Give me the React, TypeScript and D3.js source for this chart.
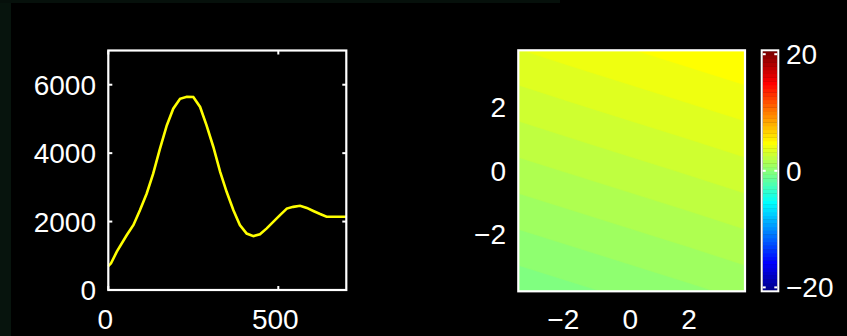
import React from "react";
import * as d3 from "d3";

// ---- Line panel data ----
const curveX = [0, 8, 25, 54, 74, 93, 113, 132, 152, 172, 191, 211, 231, 250, 270, 289, 309, 329, 348, 368, 387, 407, 427, 446, 466, 485, 505, 525, 544, 564, 584, 603, 623, 642, 662, 700];
const curveY = [700, 780, 1120, 1600, 1900, 2330, 2820, 3400, 4130, 4810, 5300, 5590, 5650, 5640, 5350, 4810, 4180, 3450, 2870, 2330, 1900, 1650, 1575, 1630, 1800, 1990, 2190, 2380, 2430, 2460, 2400, 2310, 2220, 2140, 2140, 2140];
const lineXTicks = [0, 500];
const lineYTicks = [0, 2000, 4000, 6000];

// ---- Image panel data (grid samples, top row first) ----
const fieldX = [-4, -2, 0, 2, 4];
const fieldY = [4, 2, 0, -2, -4];
const fieldZ = [
  [3.9, 4.24, 4.57, 4.9, 5.23],
  [2.77, 3.11, 3.44, 3.77, 4.1],
  [1.65, 1.98, 2.31, 2.64, 2.98],
  [0.52, 0.85, 1.18, 1.51, 1.85],
  [-0.61, -0.28, 0.05, 0.38, 0.72],
];
const mapXTicks = [-2, 0, 2];
const mapYTicks = [-2, 0, 2];
const colorLimits = [-20.5, 20.5];
const colorTicks = [-20, 0, 20];
const colorLevels = 64;

const FONT = "'Liberation Sans', Arial, sans-serif";
const FS = 28;

// Matlab-style jet colormap with 64 levels
function jetU(j: number) {
  if (j < 1 || j > 47) return 0;
  if (j <= 16) return j / 16;
  if (j <= 31) return 1;
  return (48 - j) / 16;
}
function jet(i: number) {
  const k = i + 1;
  return d3.rgb(255 * jetU(k - 24), 255 * jetU(k - 8), 255 * jetU(k + 8)).formatHex();
}

const fmtMinus = (v: number) => (v < 0 ? "\u2212" + Math.abs(v) : String(v));

export default function App() {
  // Line panel scales
  const lx = d3.scaleLinear().domain([0, 700]).range([108.3, 346.3]);
  const ly = d3.scaleLinear().domain([0, 7000]).range([290, 50.5]);
  const line = d3
    .line<number>()
    .x((_, i) => lx(curveX[i]))
    .y((d) => ly(d));

  // Image panel scales
  const mx = d3.scaleLinear().domain([-3.8, 3.9]).range([518.3, 745]);
  const my = d3.scaleLinear().domain([-3.8, 3.8]).range([291.3, 50.3]);
  const nx = fieldX.length;
  const ny = fieldY.length;
  const gx = d3.scaleLinear().domain([0.5, nx - 0.5]).range([mx(fieldX[0]), mx(fieldX[nx - 1])]);
  const gy = d3.scaleLinear().domain([0.5, ny - 0.5]).range([my(fieldY[0]), my(fieldY[ny - 1])]);
  const step = (colorLimits[1] - colorLimits[0]) / colorLevels;
  const thresholds = d3.range(colorLevels).map((i) => colorLimits[0] + i * step);
  const contours = d3.contours().size([nx, ny]).smooth(true).thresholds(thresholds)(fieldZ.flat());
  const proj = d3.geoTransform({
    point(x: number, y: number) {
      (this as any).stream.point(gx(x), gy(y));
    },
  });
  const geoPath = d3.geoPath(proj);

  // Colorbar
  const cb = d3.scaleLinear().domain(colorLimits).range([290.3, 51.3]);
  const cbX0 = 762.7;
  const cbX1 = 777.3;

  const white = "#ffffff";

  return (
    <svg
      width={847}
      height={336}
      style={{ position: "absolute", left: 0, top: 0, display: "block" }}
      fontFamily={FONT}
      fontSize={FS}
    >
      <rect x={0} y={0} width={847} height={336} fill="#000" />
      <rect x={0} y={0} width={11} height={336} fill="#07140d" />
      <rect x={0} y={0} width={560} height={3} fill="#06100b" />

      {/* Line panel */}
      <path d={line(curveY) || ""} fill="none" stroke="#ffff00" strokeWidth={2.6} strokeLinejoin="miter" />
      {lineYTicks.map((t) => (
        <g key={"ly" + t}>
          <line x1={lx(0)} x2={lx(0) + 4} y1={ly(t)} y2={ly(t)} stroke={white} strokeWidth={2} />
          <line x1={lx(700) - 4} x2={lx(700)} y1={ly(t)} y2={ly(t)} stroke={white} strokeWidth={2} />
          <text x={96} y={ly(t)} dy="0.36em" textAnchor="end" fill={white}>
            {t}
          </text>
        </g>
      ))}
      {lineXTicks.map((t) => (
        <g key={"lx" + t}>
          <line x1={lx(t)} x2={lx(t)} y1={ly(0)} y2={ly(0) - 4} stroke={white} strokeWidth={2} />
          <line x1={lx(t)} x2={lx(t)} y1={ly(7000)} y2={ly(7000) + 4} stroke={white} strokeWidth={2} />
          <text x={lx(t)} dx={-3} y={319} dy="0.36em" textAnchor="middle" fill={white}>
            {t}
          </text>
        </g>
      ))}
      <rect
        x={lx(0)}
        y={ly(7000)}
        width={lx(700) - lx(0)}
        height={ly(0) - ly(7000)}
        fill="none"
        stroke={white}
        strokeWidth={2.2}
      />

      {/* Image panel */}
      <defs>
        <clipPath id="mapClip">
          <rect x={mx(-3.8)} y={my(3.8)} width={mx(3.9) - mx(-3.8)} height={my(-3.8) - my(3.8)} />
        </clipPath>
      </defs>
      <g clipPath="url(#mapClip)">
        {contours.map((c, i) =>
          c.coordinates.length ? (
            <path key={"c" + i} d={geoPath(c as any) || ""} fill={jet(i)} stroke={jet(i)} strokeWidth={0.5} />
          ) : null
        )}
      </g>
      <rect
        x={mx(-3.8)}
        y={my(3.8)}
        width={mx(3.9) - mx(-3.8)}
        height={my(-3.8) - my(3.8)}
        fill="none"
        stroke={white}
        strokeWidth={2.2}
      />
      {mapYTicks.map((t) => (
        <text key={"my" + t} x={506} y={my(t)} dy="0.36em" textAnchor="end" fill={white}>
          {fmtMinus(t)}
        </text>
      ))}
      {mapXTicks.map((t) => (
        <text
          key={"mx" + t}
          x={mx(t)}
          dx={t < 0 ? -8 : 0}
          y={319}
          dy="0.36em"
          textAnchor="middle"
          fill={white}
        >
          {fmtMinus(t)}
        </text>
      ))}

      {/* Colorbar */}
      {d3.range(colorLevels).map((i) => (
        <rect
          key={"cb" + i}
          x={cbX0}
          y={cb(colorLimits[0] + (i + 1) * step)}
          width={cbX1 - cbX0}
          height={cb(colorLimits[0] + i * step) - cb(colorLimits[0] + (i + 1) * step) + 0.4}
          fill={jet(i)}
        />
      ))}
      {colorTicks.map((t) => (
        <g key={"ct" + t}>
          <line x1={cbX0} x2={cbX0 + 3} y1={cb(t)} y2={cb(t)} stroke={white} strokeWidth={2} />
          <line x1={cbX1 - 3} x2={cbX1} y1={cb(t)} y2={cb(t)} stroke={white} strokeWidth={2} />
          <text x={786} y={cb(t)} dy="0.36em" textAnchor="start" fill={white}>
            {fmtMinus(t)}
          </text>
        </g>
      ))}
      <rect x={761.7} y={50.3} width={16.6} height={241} fill="none" stroke={white} strokeWidth={2} />
    </svg>
  );
}
